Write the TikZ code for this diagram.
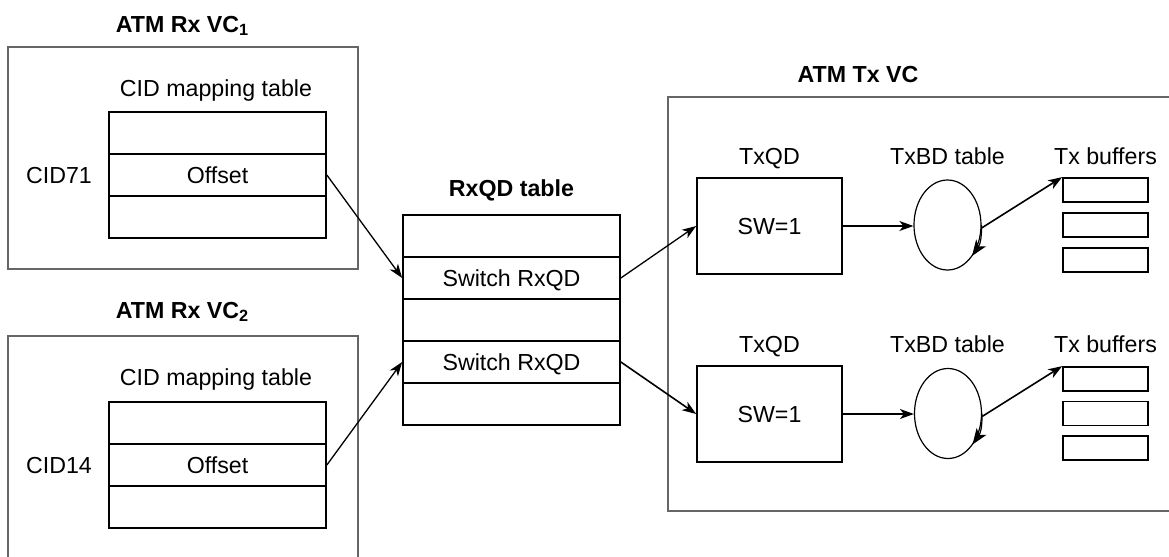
\documentclass[tikz,border=0pt]{standalone}
\usepackage{fontspec}
\setmainfont{Liberation Sans}
\usetikzlibrary{shapes.geometric,arrows.meta}
\begin{document}
\begin{tikzpicture}[x=0.5pt,y=-0.5pt,
  font=\fontsize{11.6}{14}\selectfont,
  every node/.append style={text height=8.3pt, text depth=0pt},
  txt/.style={inner sep=0pt},
  ttl/.style={inner sep=0pt, font=\fontsize{11.6}{14}\selectfont\bfseries},
  cell/.style={draw, line width=0.85pt, minimum width=108.5pt, minimum height=21pt, inner sep=0pt},
  txqd/.style={draw, line width=0.85pt, minimum width=72.5pt, minimum height=48pt, inner sep=0pt},
  ring/.style={draw, ellipse, line width=0.6pt, minimum width=33.5pt, minimum height=45pt, inner sep=0pt},
  buf/.style={draw, line width=0.85pt, minimum width=42.5pt, minimum height=12pt, inner sep=0pt},
  graybox/.style={draw=black!60, line width=0.85pt},
  arr/.style={line width=0.65pt, -{Stealth[length=7pt, width=5pt, inset=2pt]}},
  thkarr/.style={line width=0.8pt, -{Stealth[length=7pt, width=5pt, inset=2pt]}},
  ringarr/.style={line width=0.6pt, -{Stealth[length=8pt, width=6pt, inset=2.2pt]}}
]
\useasboundingbox (0,0) rectangle (1169,557);
\clip (0,0) rectangle (1169,557);

% gray enclosures
\draw[graybox] (8,47) rectangle (358,269);
\draw[graybox] (8,560) -- (8,336) -- (358,336) -- (358,560);
\draw[graybox] (1175,97) -- (668,97) -- (668,511) -- (1175,511);

% titles
\node[ttl] (tRx1) at (182.5,24) {ATM Rx VC\textsubscript{1}};
\node[ttl] (tRx2) at (182.5,310) {ATM Rx VC\textsubscript{2}};
\node[ttl] (tRxQD) at (511.5,188) {RxQD table};
\node[ttl] (tTx) at (858,74) {ATM Tx VC};

% CID mapping table 1
\node[txt] (lm1) at (216,88) {CID mapping table};
\node[cell] (m1a) at (217.5,133) {};
\node[cell] (m1b) at (217.5,175) {Offset};
\node[cell] (m1c) at (217.5,217) {};
\node[txt] (cid71) at (59,175) {CID71};

% CID mapping table 2
\node[txt] (lm2) at (216,377) {CID mapping table};
\node[cell] (m2a) at (217.5,423) {};
\node[cell] (m2b) at (217.5,465) {Offset};
\node[cell] (m2c) at (217.5,507) {};
\node[txt] (cid14) at (59,465) {CID14};

% RxQD table
\node[cell] (r1) at (511.5,236) {};
\node[cell] (r2) at (511.5,278) {Switch RxQD};
\node[cell] (r3) at (511.5,320) {};
\node[cell] (r4) at (511.5,362) {Switch RxQD};
\node[cell] (r5) at (511.5,404) {};

% upper Tx path
\node[txt] (lq1) at (769.5,156) {TxQD};
\node[txt] (lb1) at (947.5,156) {TxBD table};
\node[txt] (lt1) at (1105.5,156) {Tx buffers};
\node[txqd] (q1) at (769.5,226) {SW=1};
\node[ring] (e1) at (947.5,225) {};
\node[buf] (b1a) at (1105.5,190) {};
\node[buf] (b1b) at (1105.5,225) {};
\node[buf] (b1c) at (1105.5,260) {};

% lower Tx path
\node[txt] (lq2) at (769.5,344) {TxQD};
\node[txt] (lb2) at (947.5,344) {TxBD table};
\node[txt] (lt2) at (1105.5,344) {Tx buffers};
\node[txqd] (q2) at (769.5,414) {SW=1};
\node[ring] (e2) at (948,413.5) {};
\node[buf] (b2a) at (1105.5,379) {};
\node[buf] (b2b) at (1105.5,413.5) {};
\node[buf] (b2c) at (1105.5,448) {};

% connectors
\draw[arr] (m1b.east) -- (r2.west);
\draw[arr] (m2b.east) -- (r4.west);
\draw[arr] (r2.east) -- (q1.west);
\draw[thkarr] (r4.east) -- (q2.west);
\draw[thkarr] (q1.east) -- (q1.east -| e1.west);
\draw[thkarr] (q2.east) -- (q2.east -| e2.west);
\draw[thkarr] ([yshift=-1.5pt]e1.east) -- (b1a.north west);
\draw[thkarr] ([yshift=-1.5pt]e2.east) -- (b2a.north west);

% ring direction arrows on the ellipses
\draw[ringarr] (e1.east) .. controls ++(0,14) and ++(8,-11.5) .. ([shift={(24.5,31)}]e1.center);
\draw[ringarr] (e2.east) .. controls ++(0,14) and ++(8,-11.5) .. ([shift={(24.5,31)}]e2.center);
\end{tikzpicture}
\end{document}
